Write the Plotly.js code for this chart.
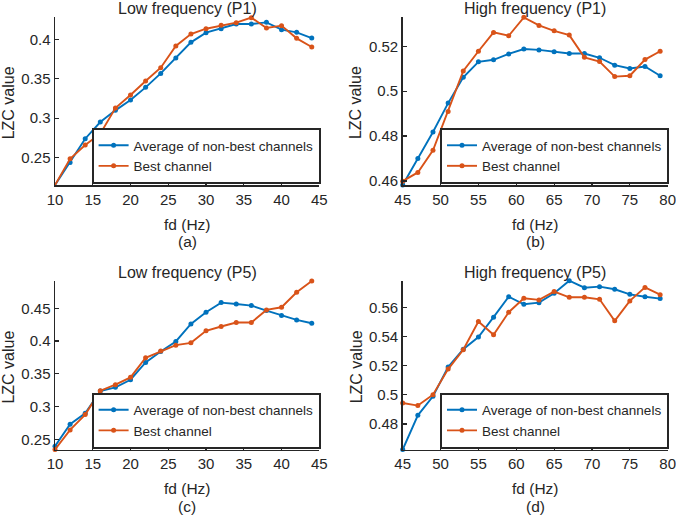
<!DOCTYPE html>
<html>
<head>
<meta charset="utf-8">
<script src="https://cdn.plot.ly/plotly-3.0.1.min.js"></script>
<style>html,body{margin:0;padding:0;background:#fff;}#chart{width:676px;height:520px;}</style>
</head>
<body>
<div id="chart"></div>
<script>
// ---- data ----
const fdLow = [10,12,14,16,18,20,22,24,26,28,30,32,34,36,38,40,42,44];
const fdHigh = [45,47,49,51,53,55,57,59,61,63,65,67,69,71,73,75,77,79];

const avgLowP1  = [0.2146,0.2435,0.2737,0.2950,0.3099,0.3230,0.3392,0.3570,0.3766,0.3966,0.4089,0.4140,0.4200,0.4200,0.4221,0.4128,0.4094,0.4021];
const bestLowP1 = [0.2146,0.2482,0.2656,0.2801,0.3128,0.3294,0.3473,0.3643,0.3919,0.4072,0.4140,0.4183,0.4217,0.4281,0.4149,0.4179,0.4017,0.3906];

const avgHighP1  = [0.4582,0.4700,0.4818,0.4947,0.5062,0.5131,0.5140,0.5166,0.5188,0.5184,0.5176,0.5168,0.5168,0.5149,0.5116,0.5101,0.5110,0.5069];
const bestHighP1 = [0.4599,0.4638,0.4737,0.4909,0.5090,0.5178,0.5262,0.5247,0.5329,0.5293,0.5269,0.5250,0.5151,0.5132,0.5065,0.5069,0.5141,0.5178];

const avgLowP5  = [0.2399,0.2733,0.2900,0.3239,0.3295,0.3411,0.3675,0.3842,0.3994,0.4262,0.4439,0.4586,0.4566,0.4541,0.4465,0.4389,0.4323,0.4272];
const bestLowP5 = [0.2348,0.2647,0.2880,0.3244,0.3335,0.3447,0.3746,0.3847,0.3938,0.3973,0.4156,0.4222,0.4282,0.4282,0.4475,0.4515,0.4743,0.4915];

const avgHighP5  = [0.4624,0.4859,0.4990,0.5191,0.5314,0.5397,0.5534,0.5675,0.5623,0.5634,0.5698,0.5785,0.5737,0.5744,0.5726,0.5691,0.5675,0.5662];
const bestHighP5 = [0.4944,0.4926,0.5001,0.5177,0.5310,0.5504,0.5413,0.5568,0.5664,0.5653,0.5710,0.5671,0.5671,0.5657,0.5509,0.5646,0.5739,0.5689];

const seriesNames = ["Average of non-best channels", "Best channel"];
const panelTitles = ["Low frequency (P1)", "High frequency (P1)", "Low frequency (P5)", "High frequency (P5)"];
const panelLabels = ["(a)", "(b)", "(c)", "(d)"];
const xTitle = "fd (Hz)";
const yTitle = "LZC value";

// ---- layout helpers ----
const W = 676, H = 520;
const px = v => v / W;
const py = v => 1 - v / H;
const FONT = "Liberation Sans, Arial, sans-serif";
const INK = "#262626";
const BLUE = "#0072BD", ORANGE = "#D95319";

const panels = [
  {x: fdLow,  avg: avgLowP1,  best: bestLowP1,  xr: [10,45], yr: [0.2147,0.4293], dy: 0.05, L: 55,    R: 319.3, T: 16.7,  B: 185},
  {x: fdHigh, avg: avgHighP1, best: bestHighP1, xr: [45,80], yr: [0.4582,0.5332], dy: 0.02, L: 402.7, R: 667.7, T: 16.7,  B: 185},
  {x: fdLow,  avg: avgLowP5,  best: bestLowP5,  xr: [10,45], yr: [0.2348,0.4920], dy: 0.05, L: 55,    R: 319.3, T: 280.7, B: 449.5},
  {x: fdHigh, avg: avgHighP5, best: bestHighP5, xr: [45,80], yr: [0.4624,0.5785], dy: 0.02, L: 402.7, R: 667.7, T: 280.7, B: 449.5}
];

const data = [];
const layout = {
  width: W, height: H,
  margin: {l:0, r:0, t:0, b:0},
  paper_bgcolor: "#fff", plot_bgcolor: "#fff",
  font: {family: FONT, color: INK, size: 15},
  showlegend: true,
  annotations: []
};

panels.forEach((p, i) => {
  const n = i + 1;
  const xa = n === 1 ? "x" : "x" + n;
  const ya = n === 1 ? "y" : "y" + n;
  const lg = n === 1 ? "legend" : "legend" + n;
  data.push({x: p.x, y: p.avg, xaxis: xa, yaxis: ya, legend: lg, name: seriesNames[0],
    type: "scatter", mode: "lines+markers", cliponaxis: false,
    line: {color: BLUE, width: 1.9}, marker: {color: BLUE, size: 5}});
  data.push({x: p.x, y: p.best, xaxis: xa, yaxis: ya, legend: lg, name: seriesNames[1],
    type: "scatter", mode: "lines+markers", cliponaxis: false,
    line: {color: ORANGE, width: 1.9}, marker: {color: ORANGE, size: 5}});

  const axCommon = {showgrid: false, zeroline: false, showline: true, linecolor: INK, linewidth: 1.5,
    ticks: "inside", ticklen: 4, tickwidth: 1.2, tickcolor: INK, tickfont: {size: 15, color: INK},
    ticklabeloverflow: "allow", fixedrange: true};
  layout["xaxis" + (n === 1 ? "" : n)] = Object.assign({}, axCommon, {
    domain: [px(p.L), px(p.R)], range: p.xr, anchor: ya, tick0: 0, dtick: 5});
  layout["yaxis" + (n === 1 ? "" : n)] = Object.assign({}, axCommon, {
    domain: [py(p.B), py(p.T)], range: p.yr, anchor: xa, tick0: 0, dtick: p.dy});
  layout[lg] = {
    x: px(p.R + 1.3), y: py(p.B - 1), xanchor: "right", yanchor: "bottom",
    bgcolor: "#fff", bordercolor: INK, borderwidth: 2,
    font: {size: 13.5, color: INK}, itemwidth: 30, tracegroupgap: 0
  };

  const cx = (p.L + p.R) / 2;
  layout.annotations.push({text: panelTitles[i], xref: "paper", yref: "paper", x: px(cx), y: py(p.T - 8),
    xanchor: "center", yanchor: "middle", showarrow: false, font: {size: 16, color: INK}});
  layout.annotations.push({text: xTitle, xref: "paper", yref: "paper", x: px(cx), y: py(p.B + 39),
    xanchor: "center", yanchor: "middle", showarrow: false, font: {size: 15.5, color: INK}});
  layout.annotations.push({text: panelLabels[i], xref: "paper", yref: "paper", x: px(cx), y: py(p.B + 56.5),
    xanchor: "center", yanchor: "middle", showarrow: false, font: {size: 15.5, color: INK}});
  layout.annotations.push({text: yTitle, xref: "paper", yref: "paper", x: px(p.L - 46.5), y: py((p.T + p.B) / 2 + 2),
    xanchor: "center", yanchor: "middle", textangle: -90, showarrow: false, font: {size: 16, color: INK}});
});

Plotly.newPlot("chart", data, layout, {displayModeBar: false, staticPlot: true});
</script>
</body>
</html>
